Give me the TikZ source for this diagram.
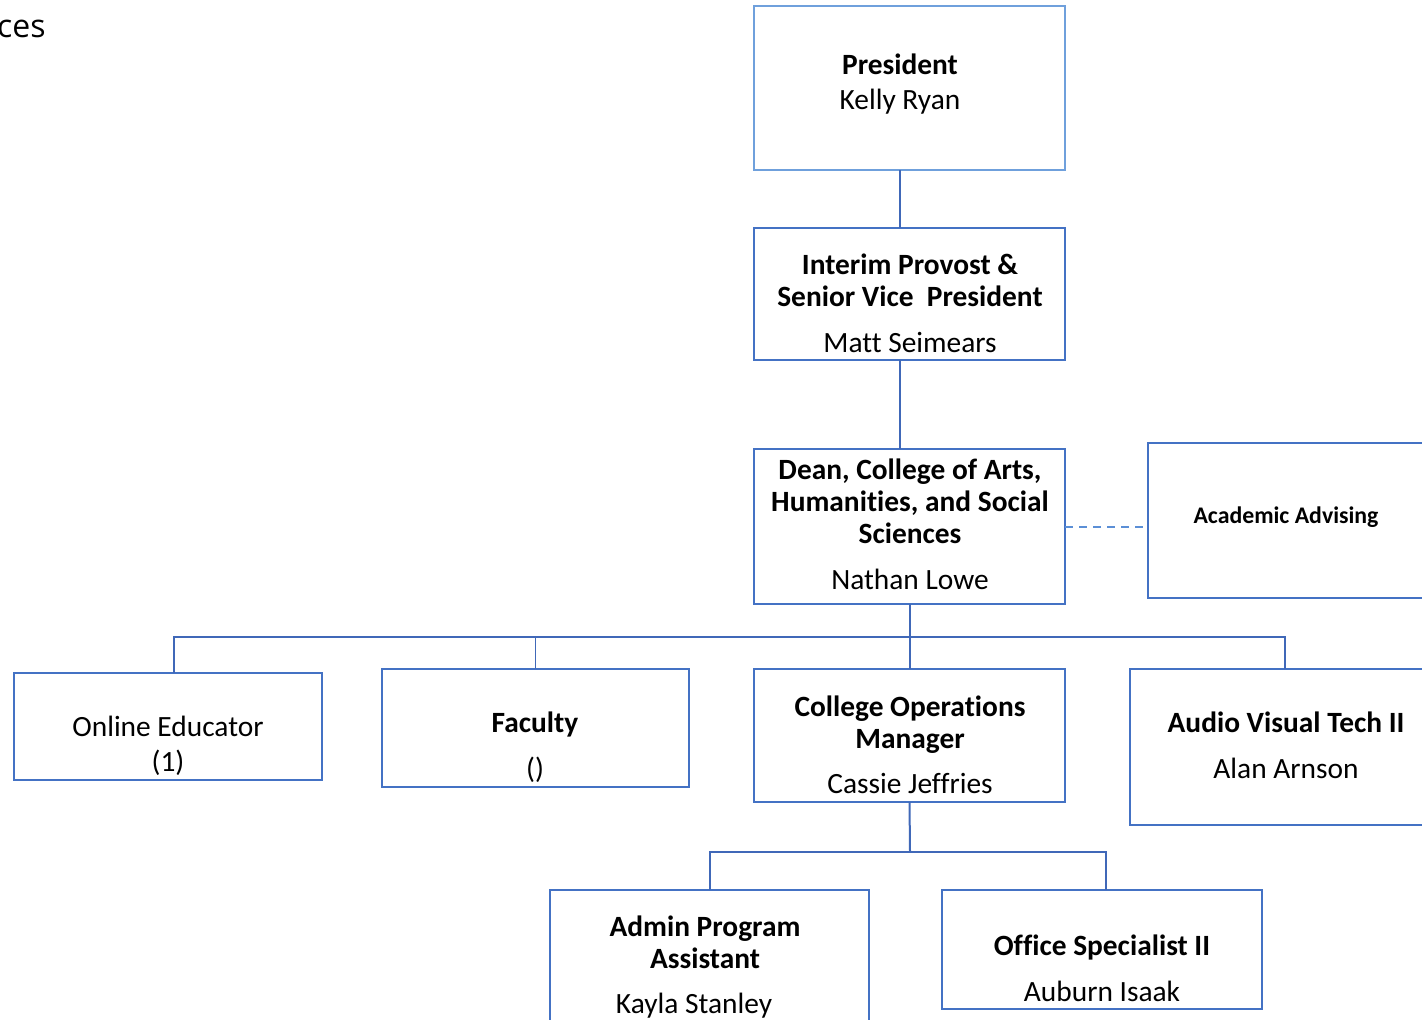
\documentclass[tikz,border=0pt]{standalone}
\usepackage{fontspec}
\setmainfont{Carlito}[Ligatures=NoCommon]
\newfontfamily\segoefont{Open Sans}
\definecolor{bdr}{HTML}{4472C4}
\definecolor{presbdr}{HTML}{6FA0DC}
\definecolor{lnc}{HTML}{4068B8}
\definecolor{dsh}{HTML}{5B8FD6}
\begin{document}
\begin{tikzpicture}[x=0.5pt,y=-0.5pt,
  box/.style={draw=bdr,line width=1.2pt,inner sep=0pt,outer sep=0pt,anchor=north west},
  tx/.style={anchor=base,inner sep=0pt,font=\fontsize{14.7}{17}\selectfont},
  bx/.style={anchor=base,inner sep=0pt,font=\fontsize{14.7}{17}\selectfont\bfseries},
  conn/.style={draw=lnc,line width=1pt}]
\useasboundingbox (0,0) rectangle (1422,1019);
\clip (0,0) rectangle (1422,1019);

% boxes
\node[box,draw=presbdr,minimum width=155.5pt,minimum height=82pt] (pres) at (754,6) {};
\node[box,minimum width=155.5pt,minimum height=66pt] (prov) at (754,228) {};
\node[box,minimum width=155.5pt,minimum height=77.5pt] (dean) at (754,449) {};
\node[box,minimum width=146pt,minimum height=77.5pt] (adv) at (1148,443) {};
\node[box,minimum width=154pt,minimum height=53.5pt] (onl) at (14,673) {};
\node[box,minimum width=153.5pt,minimum height=59pt] (fac) at (382,669) {};
\node[box,minimum width=155.5pt,minimum height=66.5pt] (com) at (754,669) {};
\node[box,minimum width=155pt,minimum height=78pt] (av) at (1130,669) {};
\node[box,minimum width=159.5pt,minimum height=75pt] (adm) at (550,890) {};
\node[box,minimum width=160pt,minimum height=59.5pt] (off) at (942,890) {};

% connectors
\coordinate (j1) at (910,637);
\coordinate (j2) at (910,852);
\draw[conn] ([xshift=-4.75pt]pres.south) -- ([xshift=-4.75pt]prov.north);
\draw[conn] ([xshift=-4.75pt]prov.south) -- ([xshift=-4.75pt]dean.north);
\draw[conn] (dean.south) -- (com.north);
\draw[conn] ([xshift=3pt]onl.north) |- (j1) -| (av.north);
\draw[draw=lnc,line width=0.6pt] (fac.north) -- (fac.north |- j1);
\draw[conn] (com.south) -- (j2);
\draw[conn] (adm.north) |- (j2) -| ([xshift=2pt]off.north);
\draw[draw=dsh,line width=1pt,dash pattern=on 4pt off 3pt] (dean.east) -- (dean.east -| adv.west);

% texts
\node[anchor=base east,inner sep=0pt,font=\segoefont\fontsize{16}{19}\selectfont] (ces) at (46,37) {ces};
\node[bx] (t1) at (900,74) {President};
\node[tx] (t2) at (900,109) {Kelly Ryan};
\node[bx] (t3) at (910,274) {Interim Provost \&};
\node[bx] (t4) at (910,306) {Senior Vice\ \ President};
\node[tx] (t5) at (910,352) {Matt Seimears};
\node[bx] (t6) at (910,479) {Dean, College of Arts,};
\node[bx] (t7) at (910,511) {Humanities, and Social};
\node[bx] (t8) at (910,543) {Sciences};
\node[tx] (t9) at (910,589) {Nathan Lowe};
\node[anchor=base,inner sep=0pt,font=\fontsize{11.9}{14}\selectfont\bfseries] (t10) at (1286,523) {Academic Advising};
\node[tx] (t11) at (168,736) {Online Educator};
\node[tx] (t12) at (168,771) {(1)};
\node[bx] (t13) at (535,732) {Faculty};
\node[tx] (t14) at (535,778) {()};
\node[bx] (t15) at (910,716) {College Operations};
\node[bx] (t16) at (910,748) {Manager};
\node[tx] (t17) at (910,793) {Cassie Jeffries};
\node[bx] (t18) at (1286,732) {Audio Visual Tech II};
\node[tx] (t19) at (1286,778) {Alan Arnson};
\node[bx] (t20) at (705,936) {Admin Program};
\node[bx] (t21) at (705,968) {Assistant};
\node[tx] (t22) at (694,1013) {Kayla Stanley};
\node[bx] (t23) at (1102,955) {Office Specialist II};
\node[tx] (t24) at (1102,1001) {Auburn Isaak};
\end{tikzpicture}
\end{document}
